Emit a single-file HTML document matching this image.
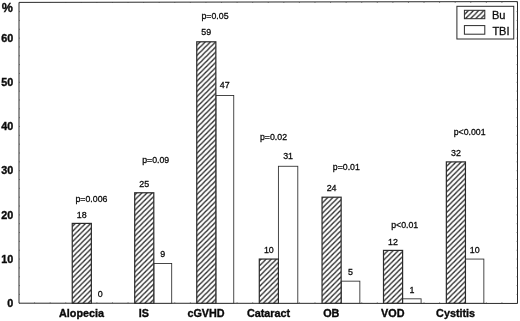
<!DOCTYPE html><html><head><meta charset="utf-8"><title>chart</title>
<style>html,body{margin:0;padding:0;background:#fff}svg{display:block;filter:blur(0.35px)}text{font-family:"Liberation Sans",sans-serif;fill:#0a0a0a;stroke:#0a0a0a;stroke-width:.28px}.b{font-weight:bold;stroke-width:.35px}</style></head><body>
<svg width="520" height="321" viewBox="0 0 520 321">
<defs><pattern id="h" width="5.15" height="5.15" patternUnits="userSpaceOnUse"><rect width="5.15" height="5.15" fill="#fff"/><path d="M-1,6.15 L6.15,-1 M-1,1 L1,-1 M4.15,6.15 L6.15,4.15" stroke="#2a2a2a" stroke-width="1.35"/></pattern></defs>
<rect width="520" height="321" fill="#fff"/>
<path d="M19,2.4 L517.5,1.6 L517.5,303.45 L19,303.2 Z" fill="none" stroke="#2a2a2a" stroke-width="1"/>
<path d="M19,303.25 h1 M517.5,303.25 h-1" stroke="#444" stroke-width="0.6"/>
<path d="M19,294.412 h1 M517.5,294.412 h-1" stroke="#444" stroke-width="0.6"/>
<path d="M19,285.574 h1 M517.5,285.574 h-1" stroke="#444" stroke-width="0.6"/>
<path d="M19,276.736 h1 M517.5,276.736 h-1" stroke="#444" stroke-width="0.6"/>
<path d="M19,267.898 h1 M517.5,267.898 h-1" stroke="#444" stroke-width="0.6"/>
<path d="M19,259.06 h1 M517.5,259.06 h-1" stroke="#444" stroke-width="0.6"/>
<path d="M19,250.222 h1 M517.5,250.222 h-1" stroke="#444" stroke-width="0.6"/>
<path d="M19,241.384 h1 M517.5,241.384 h-1" stroke="#444" stroke-width="0.6"/>
<path d="M19,232.546 h1 M517.5,232.546 h-1" stroke="#444" stroke-width="0.6"/>
<path d="M19,223.708 h1 M517.5,223.708 h-1" stroke="#444" stroke-width="0.6"/>
<path d="M19,214.87 h1 M517.5,214.87 h-1" stroke="#444" stroke-width="0.6"/>
<path d="M19,206.032 h1 M517.5,206.032 h-1" stroke="#444" stroke-width="0.6"/>
<path d="M19,197.194 h1 M517.5,197.194 h-1" stroke="#444" stroke-width="0.6"/>
<path d="M19,188.356 h1 M517.5,188.356 h-1" stroke="#444" stroke-width="0.6"/>
<path d="M19,179.518 h1 M517.5,179.518 h-1" stroke="#444" stroke-width="0.6"/>
<path d="M19,170.68 h1 M517.5,170.68 h-1" stroke="#444" stroke-width="0.6"/>
<path d="M19,161.842 h1 M517.5,161.842 h-1" stroke="#444" stroke-width="0.6"/>
<path d="M19,153.004 h1 M517.5,153.004 h-1" stroke="#444" stroke-width="0.6"/>
<path d="M19,144.166 h1 M517.5,144.166 h-1" stroke="#444" stroke-width="0.6"/>
<path d="M19,135.328 h1 M517.5,135.328 h-1" stroke="#444" stroke-width="0.6"/>
<path d="M19,126.49 h1 M517.5,126.49 h-1" stroke="#444" stroke-width="0.6"/>
<path d="M19,117.652 h1 M517.5,117.652 h-1" stroke="#444" stroke-width="0.6"/>
<path d="M19,108.814 h1 M517.5,108.814 h-1" stroke="#444" stroke-width="0.6"/>
<path d="M19,99.976 h1 M517.5,99.976 h-1" stroke="#444" stroke-width="0.6"/>
<path d="M19,91.138 h1 M517.5,91.138 h-1" stroke="#444" stroke-width="0.6"/>
<path d="M19,82.3 h1 M517.5,82.3 h-1" stroke="#444" stroke-width="0.6"/>
<path d="M19,73.462 h1 M517.5,73.462 h-1" stroke="#444" stroke-width="0.6"/>
<path d="M19,64.624 h1 M517.5,64.624 h-1" stroke="#444" stroke-width="0.6"/>
<path d="M19,55.786 h1 M517.5,55.786 h-1" stroke="#444" stroke-width="0.6"/>
<path d="M19,46.948 h1 M517.5,46.948 h-1" stroke="#444" stroke-width="0.6"/>
<path d="M19,38.11 h1 M517.5,38.11 h-1" stroke="#444" stroke-width="0.6"/>
<path d="M19,29.272 h1 M517.5,29.272 h-1" stroke="#444" stroke-width="0.6"/>
<path d="M19,20.434 h1 M517.5,20.434 h-1" stroke="#444" stroke-width="0.6"/>
<path d="M19,11.596 h1 M517.5,11.596 h-1" stroke="#444" stroke-width="0.6"/>
<path d="M19,2.758 h1 M517.5,2.758 h-1" stroke="#444" stroke-width="0.6"/>
<path d="M34.5781,303.25 v-1 M34.5781,2 v1" stroke="#444" stroke-width="0.6"/>
<path d="M50.1562,303.25 v-1 M50.1562,2 v1" stroke="#444" stroke-width="0.6"/>
<path d="M65.7344,303.25 v-1 M65.7344,2 v1" stroke="#444" stroke-width="0.6"/>
<path d="M81.3125,303.25 v-1 M81.3125,2 v1" stroke="#444" stroke-width="0.6"/>
<path d="M96.8906,303.25 v-1 M96.8906,2 v1" stroke="#444" stroke-width="0.6"/>
<path d="M112.469,303.25 v-1 M112.469,2 v1" stroke="#444" stroke-width="0.6"/>
<path d="M128.047,303.25 v-1 M128.047,2 v1" stroke="#444" stroke-width="0.6"/>
<path d="M143.625,303.25 v-1 M143.625,2 v1" stroke="#444" stroke-width="0.6"/>
<path d="M159.203,303.25 v-1 M159.203,2 v1" stroke="#444" stroke-width="0.6"/>
<path d="M174.781,303.25 v-1 M174.781,2 v1" stroke="#444" stroke-width="0.6"/>
<path d="M190.359,303.25 v-1 M190.359,2 v1" stroke="#444" stroke-width="0.6"/>
<path d="M205.938,303.25 v-1 M205.938,2 v1" stroke="#444" stroke-width="0.6"/>
<path d="M221.516,303.25 v-1 M221.516,2 v1" stroke="#444" stroke-width="0.6"/>
<path d="M237.094,303.25 v-1 M237.094,2 v1" stroke="#444" stroke-width="0.6"/>
<path d="M252.672,303.25 v-1 M252.672,2 v1" stroke="#444" stroke-width="0.6"/>
<path d="M268.25,303.25 v-1 M268.25,2 v1" stroke="#444" stroke-width="0.6"/>
<path d="M283.828,303.25 v-1 M283.828,2 v1" stroke="#444" stroke-width="0.6"/>
<path d="M299.406,303.25 v-1 M299.406,2 v1" stroke="#444" stroke-width="0.6"/>
<path d="M314.984,303.25 v-1 M314.984,2 v1" stroke="#444" stroke-width="0.6"/>
<path d="M330.562,303.25 v-1 M330.562,2 v1" stroke="#444" stroke-width="0.6"/>
<path d="M346.141,303.25 v-1 M346.141,2 v1" stroke="#444" stroke-width="0.6"/>
<path d="M361.719,303.25 v-1 M361.719,2 v1" stroke="#444" stroke-width="0.6"/>
<path d="M377.297,303.25 v-1 M377.297,2 v1" stroke="#444" stroke-width="0.6"/>
<path d="M392.875,303.25 v-1 M392.875,2 v1" stroke="#444" stroke-width="0.6"/>
<path d="M408.453,303.25 v-1 M408.453,2 v1" stroke="#444" stroke-width="0.6"/>
<path d="M424.031,303.25 v-1 M424.031,2 v1" stroke="#444" stroke-width="0.6"/>
<path d="M439.609,303.25 v-1 M439.609,2 v1" stroke="#444" stroke-width="0.6"/>
<path d="M455.188,303.25 v-1 M455.188,2 v1" stroke="#444" stroke-width="0.6"/>
<path d="M470.766,303.25 v-1 M470.766,2 v1" stroke="#444" stroke-width="0.6"/>
<path d="M486.344,303.25 v-1 M486.344,2 v1" stroke="#444" stroke-width="0.6"/>
<path d="M501.922,303.25 v-1 M501.922,2 v1" stroke="#444" stroke-width="0.6"/>
<text class="b" x="13.2" y="307.05" text-anchor="end" font-size="10.8">0</text>
<text class="b" x="13.2" y="262.86" text-anchor="end" font-size="10.8">10</text>
<text class="b" x="13.2" y="218.67" text-anchor="end" font-size="10.8">20</text>
<text class="b" x="13.2" y="174.48" text-anchor="end" font-size="10.8">30</text>
<text class="b" x="13.2" y="130.29" text-anchor="end" font-size="10.8">40</text>
<text class="b" x="13.2" y="86.1" text-anchor="end" font-size="10.8">50</text>
<text class="b" x="13.2" y="41.91" text-anchor="end" font-size="10.8">60</text>
<text class="b" x="1.8" y="12.2" font-size="12.5">%</text>
<rect x="72.25" y="223.4" width="19.1" height="79.85" fill="url(#h)" stroke="#2a2a2a" stroke-width="1.2"/>
<text x="81.8" y="217.6" text-anchor="middle" font-size="8.9">18</text>
<text x="100.3" y="296.65" text-anchor="middle" font-size="8.9">0</text>
<text class="b" x="81.5" y="317" text-anchor="middle" font-size="10.8">Alopecia</text>
<rect x="153.8" y="263.479" width="17.9" height="39.771" fill="#fff" stroke="#2a2a2a" stroke-width="0.85"/>
<rect x="134.7" y="192.775" width="19.1" height="110.475" fill="url(#h)" stroke="#2a2a2a" stroke-width="1.2"/>
<text x="144.25" y="186.975" text-anchor="middle" font-size="8.9">25</text>
<text x="162.75" y="256.879" text-anchor="middle" font-size="8.9">9</text>
<text class="b" x="143.95" y="317" text-anchor="middle" font-size="10.8">IS</text>
<rect x="215.85" y="95.557" width="17.9" height="207.693" fill="#fff" stroke="#2a2a2a" stroke-width="0.85"/>
<rect x="196.75" y="41.8" width="19.1" height="261.45" fill="url(#h)" stroke="#2a2a2a" stroke-width="1.2"/>
<text x="206.3" y="35.4" text-anchor="middle" font-size="8.9">59</text>
<text x="224.8" y="88.257" text-anchor="middle" font-size="8.9">47</text>
<text class="b" x="206" y="317" text-anchor="middle" font-size="10.8">cGVHD</text>
<rect x="278.4" y="166.261" width="19.4" height="136.989" fill="#fff" stroke="#2a2a2a" stroke-width="0.85"/>
<rect x="259.3" y="259.06" width="19.1" height="44.19" fill="url(#h)" stroke="#2a2a2a" stroke-width="1.2"/>
<text x="268.85" y="253.26" text-anchor="middle" font-size="8.9">10</text>
<text x="288.1" y="159.161" text-anchor="middle" font-size="8.9">31</text>
<text class="b" x="268.55" y="317" text-anchor="middle" font-size="10.8">Cataract</text>
<rect x="341.15" y="281.155" width="18.7" height="22.095" fill="#fff" stroke="#2a2a2a" stroke-width="0.85"/>
<rect x="322.05" y="197.194" width="19.1" height="106.056" fill="url(#h)" stroke="#2a2a2a" stroke-width="1.2"/>
<text x="331.6" y="191.394" text-anchor="middle" font-size="8.9">24</text>
<text x="350.5" y="274.555" text-anchor="middle" font-size="8.9">5</text>
<text class="b" x="331.3" y="317" text-anchor="middle" font-size="10.8">OB</text>
<rect x="402.6" y="298.831" width="18.5" height="4.419" fill="#fff" stroke="#2a2a2a" stroke-width="0.85"/>
<rect x="383.5" y="250.4" width="19.1" height="52.85" fill="url(#h)" stroke="#2a2a2a" stroke-width="1.2"/>
<text x="393.05" y="244.6" text-anchor="middle" font-size="8.9">12</text>
<text x="411.85" y="292.731" text-anchor="middle" font-size="8.9">1</text>
<text class="b" x="392.75" y="317" text-anchor="middle" font-size="10.8">VOD</text>
<rect x="465.45" y="259.06" width="18.4" height="44.19" fill="#fff" stroke="#2a2a2a" stroke-width="0.85"/>
<rect x="446.35" y="161.9" width="19.1" height="141.35" fill="url(#h)" stroke="#2a2a2a" stroke-width="1.2"/>
<text x="455.9" y="156.1" text-anchor="middle" font-size="8.9">32</text>
<text x="474.65" y="253.16" text-anchor="middle" font-size="8.9">10</text>
<text class="b" x="455.6" y="317" text-anchor="middle" font-size="10.8">Cystitis</text>
<text x="75.5" y="201.5" font-size="8.75">p=0.006</text>
<text x="142.2" y="162.5" font-size="8.75">p=0.09</text>
<text x="201.5" y="19.4" font-size="8.75">p=0.05</text>
<text x="260" y="140.4" font-size="8.75">p=0.02</text>
<text x="332.8" y="169.5" font-size="8.75">p=0.01</text>
<text x="391.2" y="228.3" font-size="8.75">p&lt;0.01</text>
<text x="453.7" y="134.8" font-size="8.75">p&lt;0.001</text>
<rect x="456.9" y="6.3" width="56.85" height="32.7" fill="#fff" stroke="#2a2a2a" stroke-width="1"/>
<rect x="464.4" y="10.3" width="20.4" height="8.4" fill="url(#h)" stroke="#2a2a2a" stroke-width="1"/>
<rect x="464.4" y="25.6" width="20.4" height="8.6" fill="#fff" stroke="#2a2a2a" stroke-width="1"/>
<text x="492" y="18.9" font-size="11">Bu</text>
<text x="492.4" y="34.6" font-size="11">TBI</text>
</svg></body></html>
